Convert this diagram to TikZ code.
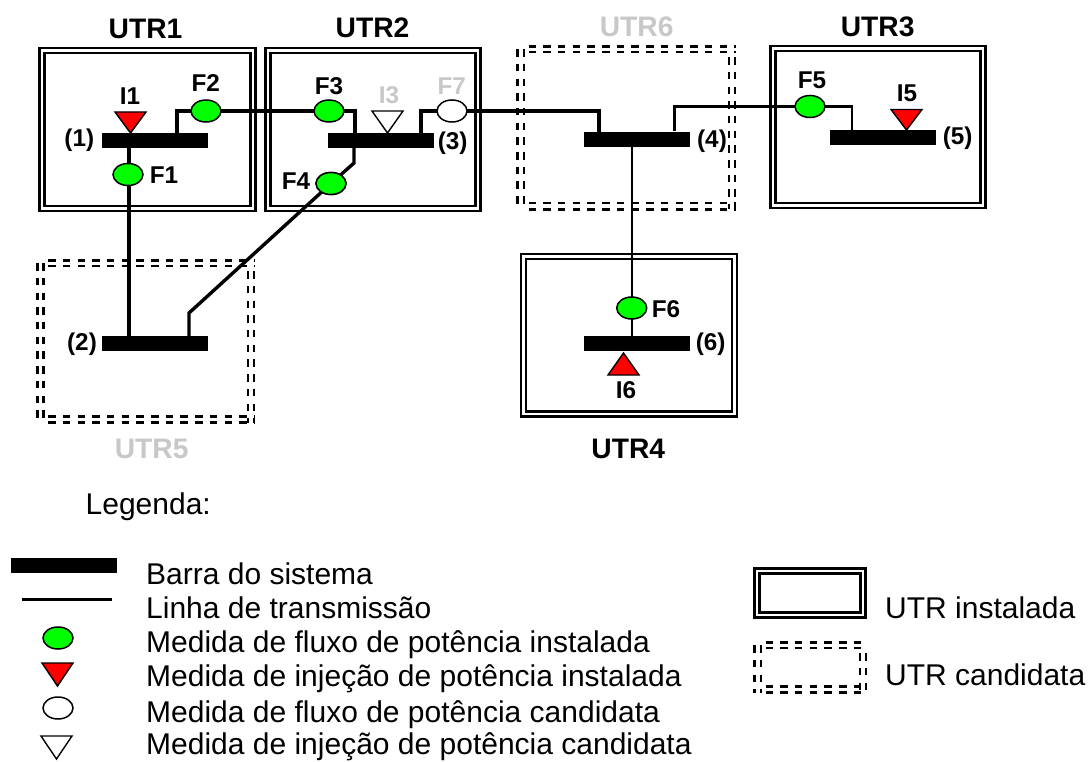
\documentclass[tikz,border=0pt]{standalone}
\usepackage{fontspec}
\usetikzlibrary{shapes.geometric}
\setmainfont{Liberation Sans}
\definecolor{gr}{RGB}{0,255,0}
\definecolor{rd}{RGB}{255,0,0}
\definecolor{lg}{RGB}{200,200,200}
\tikzset{
  utr/.style={rectangle,draw=black,inner sep=0pt,outer sep=0pt,line width=2.4pt,double=white,double distance=2.6pt},
  candline/.style={draw=black,line width=2.7pt,dash pattern=on 7.5pt off 7.2pt},
  bus/.style={rectangle,fill=black,inner sep=0pt,outer sep=0pt},
  flow/.style={ellipse,draw=black,line width=1.5pt,inner sep=0pt,outer sep=0pt,minimum width=30pt,minimum height=22pt,fill=gr},
  flowc/.style={flow,fill=white},
  inj/.style={draw=black,line width=1.4pt,fill=rd,line join=miter},
  injc/.style={inj,fill=white},
  wire/.style={draw=black,line width=3.4pt,line cap=butt,line join=miter},
  wirethin/.style={draw=black,line width=2.6pt,line cap=butt,line join=miter},
  lab/.style={inner sep=0pt,anchor=base,font=\fontsize{24.3}{24}\selectfont\bfseries},
  head/.style={inner sep=0pt,anchor=base,font=\fontsize{28.2}{28}\selectfont\bfseries},
  txt/.style={inner sep=0pt,anchor=base west,font=\fontsize{30}{30}\selectfont},
}
% candidate frame: outer stroke centres x1,y1,x2,y2; inner strokes 6 inside
\newcommand\candframe[4]{%
  \pgfmathsetmacro\cxa{#1}\pgfmathsetmacro\cya{#2}\pgfmathsetmacro\cxb{#3}\pgfmathsetmacro\cyb{#4}%
  \pgfmathsetmacro\cxh{\cxa+10.8}\pgfmathsetmacro\cxi{\cxa+6.2}\pgfmathsetmacro\cxj{\cxb-6}%
  \pgfmathsetmacro\cyi{\cya+5.4}\pgfmathsetmacro\cyj{\cyb-6.2}%
  \pgfmathsetmacro\cvs{\cya+2.5}\pgfmathsetmacro\cvr{\cya+10.5}\pgfmathsetmacro\cxe{\cxb+1}%
  \draw[candline] (\cxh,\cya) -- (\cxe,\cya);
  \draw[candline] (\cxh,\cyi) -- (\cxe,\cyi);
  \draw[candline] (\cxh,\cyb) -- (\cxe,\cyb);
  \draw[candline] (\cxh,\cyj) -- (\cxe,\cyj);
  \draw[candline] (\cxa,\cvs) -- (\cxa,\cyb);
  \draw[candline] (\cxi,\cvs) -- (\cxi,\cyb);
  \draw[candline] (\cxb,\cvr) -- (\cxb,\cyb);
  \draw[candline] (\cxj,\cvr) -- (\cxj,\cyb);
}
\begin{document}
\begin{tikzpicture}[x=1pt,y=-1pt]
\useasboundingbox (0,0) rectangle (1088,762);
\fill[white] (0,0) rectangle (1088,762);
% UTR frames
\node[utr,minimum width=211pt,minimum height=158pt] (utr1) at (147.5,129.4) {};
\node[utr,minimum width=210pt,minimum height=158pt] (utr2) at (373,129.4) {};
\node[utr,minimum width=210pt,minimum height=157pt] (utr3) at (878,127) {};
\node[utr,minimum width=211pt,minimum height=157.5pt] (utr4) at (628.7,335.2) {};
\candframe{517.7}{46.7}{735}{209.3}
\candframe{37.3}{260.7}{254}{422.7}
% buses
\node[bus,minimum width=106pt,minimum height=15pt] (b1) at (155,140.5) {};
\node[bus,minimum width=106pt,minimum height=15pt] (b2) at (154.7,343.5) {};
\node[bus,minimum width=106pt,minimum height=15pt] (b3) at (380.5,140.5) {};
\node[bus,minimum width=106pt,minimum height=15pt] (b4) at (636.5,140) {};
\node[bus,minimum width=106pt,minimum height=15pt] (b5) at (883,137.5) {};
\node[bus,minimum width=106pt,minimum height=15pt] (b6) at (636.5,343.5) {};
% flow measures
\node[flow] (F1) at (128,174.5) {};
\node[flow] (F2) at (206,111) {};
\node[flow] (F3) at (329,111) {};
\node[flow] (F4) at (331,183.5) {};
\node[flow] (F5) at (810,106.5) {};
\node[flow] (F6) at (631.7,308) {};
\node[flowc] (F7) at (452,111) {};
% connector points
\coordinate (b1r) at (177,133);
\coordinate (b3l) at (355,133);
\coordinate (b3r) at (421,133);
\coordinate (b3s) at (354,148);
\coordinate (b3k) at (354,163);
\coordinate (b2k) at (189,313);
\coordinate (b2r) at (189,336);
\coordinate (b4l) at (599,133);
\coordinate (b4r) at (674.5,131);
\coordinate (b5l) at (852,130);
\coordinate (b1s) at (129,148);
\coordinate (b2n) at (129,336);
\coordinate (b4s) at (632,147.5);
\coordinate (b6n) at (632,336);
% connectors
\draw[wire] (F2.west) -| (b1r);
\draw[wire] (F2.east) -- (F3.west);
\draw[wire] (F3.east) -| (b3l);
\draw[wire] (F7.west) -| (b3r);
\draw[wire] (F7.east) -| (b4l);
\draw[wirethin] (F5.west) -| (b4r);
\draw[wirethin] (F5.east) -| (b5l);
\draw[wire] (b1s) -- (F1.north -| b1s);
\draw[wire] (F1.south -| b2n) -- (b2n);
\draw[wire] (b3s) -- (b3k) -- (F4);
\draw[wire] (F4) -- (b2k) -- (b2r);
\draw[wirethin] (b4s) -- (F6.north -| b4s);
\draw[wirethin] (F6.south -| b6n) -- (b6n);
% redraw flow measure over the ends
\node[flow] at (F4) {};
% injection measures
\draw[inj] (115,112) -- (146,112) -- (130.5,133) -- cycle;
\draw[injc] (372,111) -- (403,111) -- (387.5,133) -- cycle;
\draw[inj] (891,109.5) -- (922,109.5) -- (906.5,130) -- cycle;
\draw[inj] (608,375) -- (639,375) -- (623.5,353) -- cycle;
% heads
\node[head] (tu1) at (145.5,39) {UTR1};
\node[head] (tu2) at (372.5,37.5) {UTR2};
\node[head,text=lg] (tu6) at (636.7,36.7) {UTR6};
\node[head] (tu3) at (877.7,36.7) {UTR3};
\node[head,text=lg] (tu5) at (151.7,458) {UTR5};
\node[head] (tu4) at (628.3,458) {UTR4};
% labels
\node[lab] (l1) at (79.3,147) {(1)};
\node[lab] (l2) at (82,350.7) {(2)};
\node[lab] (l3) at (452.7,149.5) {(3)};
\node[lab] (l4) at (712,148) {(4)};
\node[lab] (l5) at (957.7,145) {(5)};
\node[lab] (l6) at (710.7,351) {(6)};
\node[lab] (tF1) at (164,183.7) {F1};
\node[lab] (tF2) at (205.7,91.7) {F2};
\node[lab] (tF3) at (329,95) {F3};
\node[lab] (tF4) at (296,190) {F4};
\node[lab] (tF5) at (812,88.3) {F5};
\node[lab] (tF6) at (666,317.7) {F6};
\node[lab,text=lg] (tF7) at (451.7,95) {F7};
\node[lab] (tI1) at (130,104.7) {I1};
\node[lab,text=lg] (tI3) at (389,103.7) {I3};
\node[lab] (tI5) at (907,101.7) {I5};
\node[lab] (tI6) at (626,399) {I6};
% legend
\node[txt] (leg) at (85.5,514) {Legenda:};
\node[bus,minimum width=105.7pt,minimum height=15pt] (kb) at (63.8,565.8) {};
\coordinate (kla) at (22,599.5);
\coordinate (klb) at (112,599.5);
\draw[wire,line width=3pt] (kla) -- (klb);
\node[flow] (kf) at (58,638) {};
\draw[inj] (42,663) -- (73,663) -- (57.5,686) -- cycle;
\node[flowc] (kc) at (58,708) {};
\draw[injc] (41,736) -- (72,736) -- (56.5,759) -- cycle;
\node[txt] (t1) at (146,584) {Barra do sistema};
\node[txt] (t2) at (146,618) {Linha de transmissão};
\node[txt] (t3) at (146,652) {Medida de fluxo de potência instalada};
\node[txt] (t4) at (146,686) {Medida de injeção de potência instalada};
\node[txt] (t5) at (146,722) {Medida de fluxo de potência candidata};
\node[txt] (t6) at (146,754) {Medida de injeção de potência candidata};
\node[utr,minimum width=106pt,minimum height=44pt] (ki) at (810,593) {};
\candframe{754.7}{642.7}{866}{692.7}
\node[txt] (t7) at (885,618) {UTR instalada};
\node[txt] (t8) at (885,685) {UTR candidata};
\end{tikzpicture}
\end{document}
